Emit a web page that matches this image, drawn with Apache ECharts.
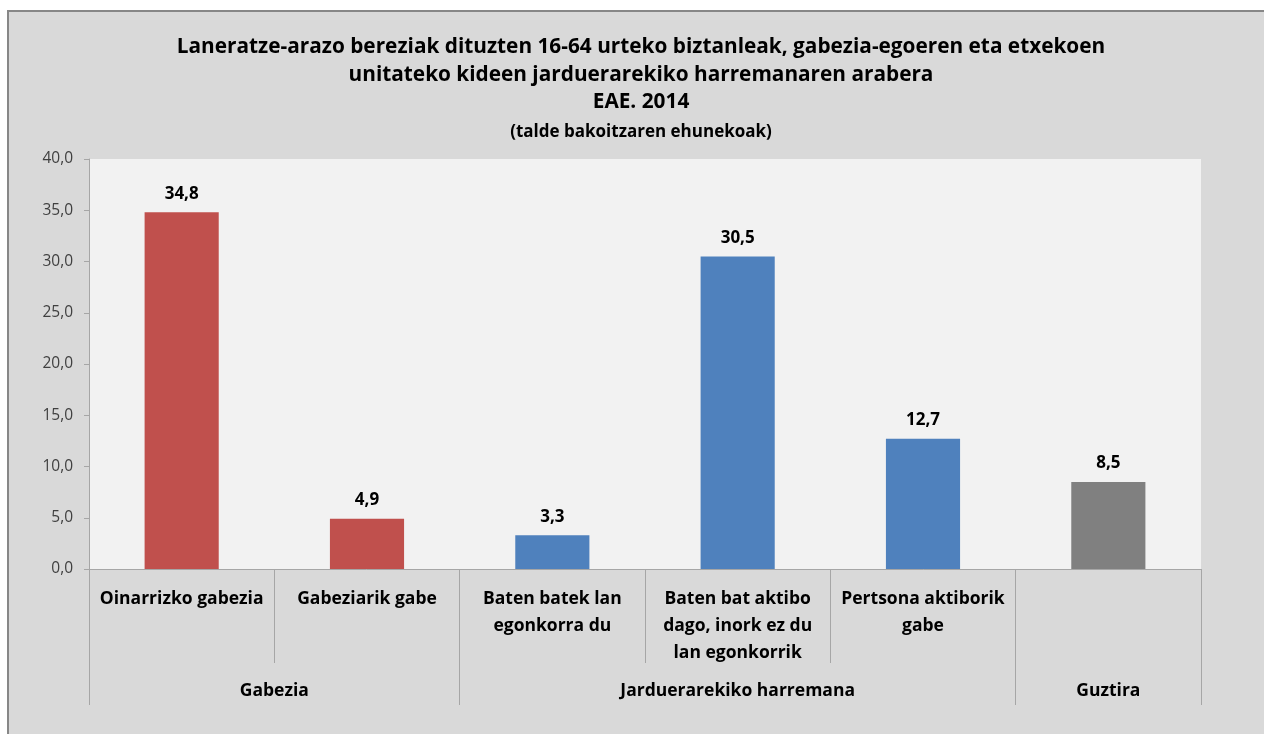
<!DOCTYPE html>
<html>
<head>
<meta charset="utf-8">
<script src="https://cdn.jsdelivr.net/npm/echarts@6/dist/echarts.min.js"></script>
<style>
  html, body { margin: 0; padding: 0; background: #ffffff; overflow: hidden; }
  #frame { position: absolute; left: 7px; top: 10px; width: 1257px; height: 724px; box-sizing: border-box;
           background: #d9d9d9; border-left: 2px solid #878787; border-top: 2px solid #878787; }
  #chart { position: absolute; left: 9px; top: 0; width: 1255px; height: 734px; }
</style>
</head>
<body>
<div id="frame"></div>
<div id="chart"></div>
<script>
// ---- data ----
const titleLines = [
  'Laneratze-arazo bereziak dituzten 16-64 urteko biztanleak, gabezia-egoeren eta etxekoen',
  'unitateko kideen jarduerarekiko harremanaren arabera',
  'EAE. 2014'
];
const subtitle = '(talde bakoitzaren ehunekoak)';
const categories = [
  'Oinarrizko gabezia',
  'Gabeziarik gabe',
  'Baten batek lan\negonkorra du',
  'Baten bat aktibo\ndago, inork ez du\nlan egonkorrik',
  'Pertsona aktiborik\ngabe',
  ''
];
const values = [34.8, 4.9, 3.3, 30.5, 12.7, 8.5];
const barColors = ['#c0504d', '#c0504d', '#4f81bd', '#4f81bd', '#4f81bd', '#808080'];
const groupNames = ['Gabezia', 'Jarduerarekiko harremana', 'Guztira'];
const groupSizes = [2, 3, 1];
const yTicks = [0, 5, 10, 15, 20, 25, 30, 35, 40];

// ---- build group axis (half-category points) ----
const nPoints = categories.length * 2 + 1;
const groupAxisData = new Array(nPoints).fill('');
const boundaryPoints = new Set([0]);
let start = 0;
groupNames.forEach((g, i) => {
  groupAxisData[2 * start + groupSizes[i]] = g;
  start += groupSizes[i];
  boundaryPoints.add(2 * start);
});

const fmt = v => v.toFixed(1).replace('.', ',');
const font = 'Open Sans';

const chart = echarts.init(document.getElementById('chart'), null, { renderer: 'canvas', width: 1264, height: 734 });
chart.setOption({
  backgroundColor: 'transparent',
  animation: false,
  textStyle: { fontFamily: font },
  title: [
    {
      text: titleLines.join('\n'),
      left: 'center', top: 28.5,
      textStyle: { fontFamily: font, fontSize: 20.8, fontWeight: 'bold', color: '#000', lineHeight: 27.5 }
    },
    {
      text: subtitle,
      left: 'center', top: 119,
      textStyle: { fontFamily: font, fontSize: 17, fontWeight: 'bold', color: '#000' }
    }
  ],
  grid: {
    left: 80, top: 159, right: 72, bottom: 165,
    show: true, backgroundColor: '#f2f2f2', borderWidth: 0
  },
  xAxis: [
    {
      type: 'category',
      data: categories,
      position: 'bottom',
      axisLine: { lineStyle: { color: '#a6a6a6', width: 1 } },
      axisTick: { show: true, length: 94, lineStyle: { color: '#a6a6a6' } },
      axisLabel: {
        interval: 0, margin: 17,
        fontFamily: font, fontSize: 17.5, fontWeight: 'bold', color: '#000', lineHeight: 27,
        verticalAlign: 'top'
      }
    },
    {
      type: 'category',
      data: groupAxisData,
      boundaryGap: false,
      position: 'bottom',
      axisLine: { show: false },
      axisTick: {
        show: true, length: 136,
        interval: (idx) => boundaryPoints.has(idx),
        lineStyle: { color: '#a6a6a6' }
      },
      axisLabel: {
        interval: 0, margin: 113,
        fontFamily: font, fontSize: 17.5, fontWeight: 'bold', color: '#000',
        verticalAlign: 'top'
      }
    }
  ],
  yAxis: {
    type: 'value',
    min: yTicks[0], max: yTicks[yTicks.length - 1], interval: yTicks[1] - yTicks[0],
    splitLine: { show: false },
    axisLine: { show: true, lineStyle: { color: '#a6a6a6' } },
    axisTick: { show: true, length: 5, lineStyle: { color: '#a6a6a6' } },
    axisLabel: { formatter: fmt, margin: 16, fontFamily: font, fontSize: 15.5, color: '#404040' }
  },
  series: [{
    type: 'bar',
    xAxisIndex: 0,
    barWidth: '40%',
    data: values.map((v, i) => ({ value: v, itemStyle: { color: barColors[i] } })),
    label: {
      show: true, position: 'top', distance: 10,
      formatter: p => fmt(p.value),
      fontFamily: font, fontSize: 17, fontWeight: 'bold', color: '#000'
    }
  }]
});
</script>
</body>
</html>
